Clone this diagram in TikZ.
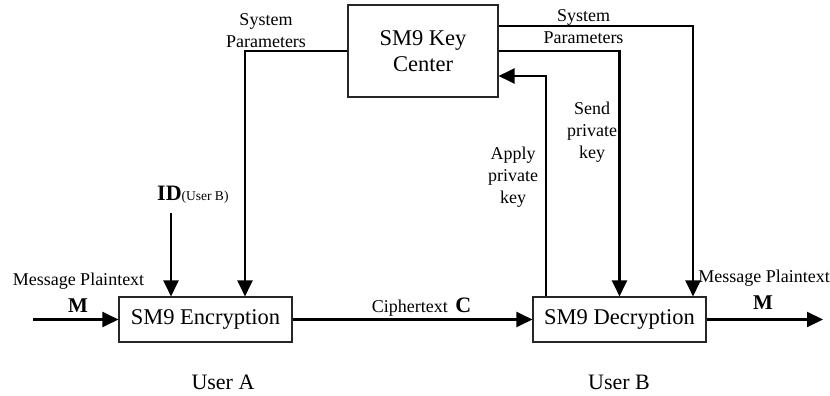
\documentclass[tikz,border=0pt]{standalone}
\usepackage{fontspec}
\setmainfont{Liberation Serif}
\usetikzlibrary{arrows.meta}

\tikzset{
  blockbox/.style={draw=black!85, line width=1.1pt, fill=white, inner sep=0pt,
    font=\fontsize{22.5}{26}\selectfont, align=center},
  flow/.style={line width=2.2pt, -{Triangle[length=16pt,width=15pt]}},
  lbl/.style={inner sep=0pt, font=\fontsize{18}{22}\selectfont, align=center},
  bigbold/.style={inner sep=0pt, font=\fontsize{21}{24}\selectfont\bfseries},
  userlbl/.style={inner sep=0pt, font=\fontsize{22}{26}\selectfont},
}

\begin{document}
\begin{tikzpicture}[x=1pt, y=-1pt]
  \useasboundingbox (0,0) rectangle (830,396);

  % blocks
  \node[blockbox, minimum width=150pt, minimum height=92pt] (kc) at (423,51) {SM9 Key\\Center};
  \node[blockbox, minimum width=173pt, minimum height=45pt] (enc) at (205.5,319.5) {SM9 Encryption};
  \node[blockbox, minimum width=173pt, minimum height=45pt] (dec) at (619.5,319.5) {SM9 Decryption};

  % free ends
  \coordinate (msgin) at (33,319.5);
  \coordinate (idin) at (171,213);
  \coordinate (msgout) at (823,319.5);

  % plaintext into encryption
  \draw[flow] (msgin) -- (enc.west);
  \node[lbl] (mpl) at (78.5,281) {Message Plaintext};
  \node[bigbold] (ml) at (78,306) {M};

  % identity of the receiver
  \draw[flow] (idin) -- (idin |- enc.north);
  \node[inner sep=0pt, anchor=base west] (idl) at (157,200)
    {{\fontsize{22}{24}\selectfont\bfseries ID}{\fontsize{13.5}{16}\selectfont(User B)}};

  % system parameters to encryption
  \draw[flow] (kc.west) -| ([xshift=39.5pt]enc.north);
  \node[lbl] (spl) at (266,30.5) {System\\Parameters};

  % ciphertext
  \draw[flow] (enc.east) -- (dec.west);
  \node[inner sep=0pt, font=\fontsize{18}{22}\selectfont] (ctl) at (421.5,307)
    {Ciphertext\ \,{\fontsize{22}{26}\selectfont\bfseries C}};

  % apply private key
  \draw[flow] ([xshift=-73.5pt]dec.north) |- ([yshift=-25pt]kc.east);
  \node[lbl] (apl) at (513,177) {Apply\\private\\key};

  % send private key
  \draw[flow] (kc.east) -| (dec.north);
  \node[lbl] (sdl) at (592,132) {Send\\private\\key};

  % system parameters to decryption
  \draw[flow] ([yshift=25pt]kc.east) -| ([xshift=73.5pt]dec.north);
  \node[lbl] (spr) at (583.5,26.5) {System\\Parameters};

  % plaintext out of decryption
  \draw[flow] (dec.east) -- (msgout);
  \node[lbl] (mpr) at (764,278) {Message Plaintext};
  \node[bigbold] (mr) at (763,303) {M};

  % users
  \node[userlbl] (ua) at (223,382) {User A};
  \node[userlbl] (ub) at (619,382) {User B};
\end{tikzpicture}
\end{document}
